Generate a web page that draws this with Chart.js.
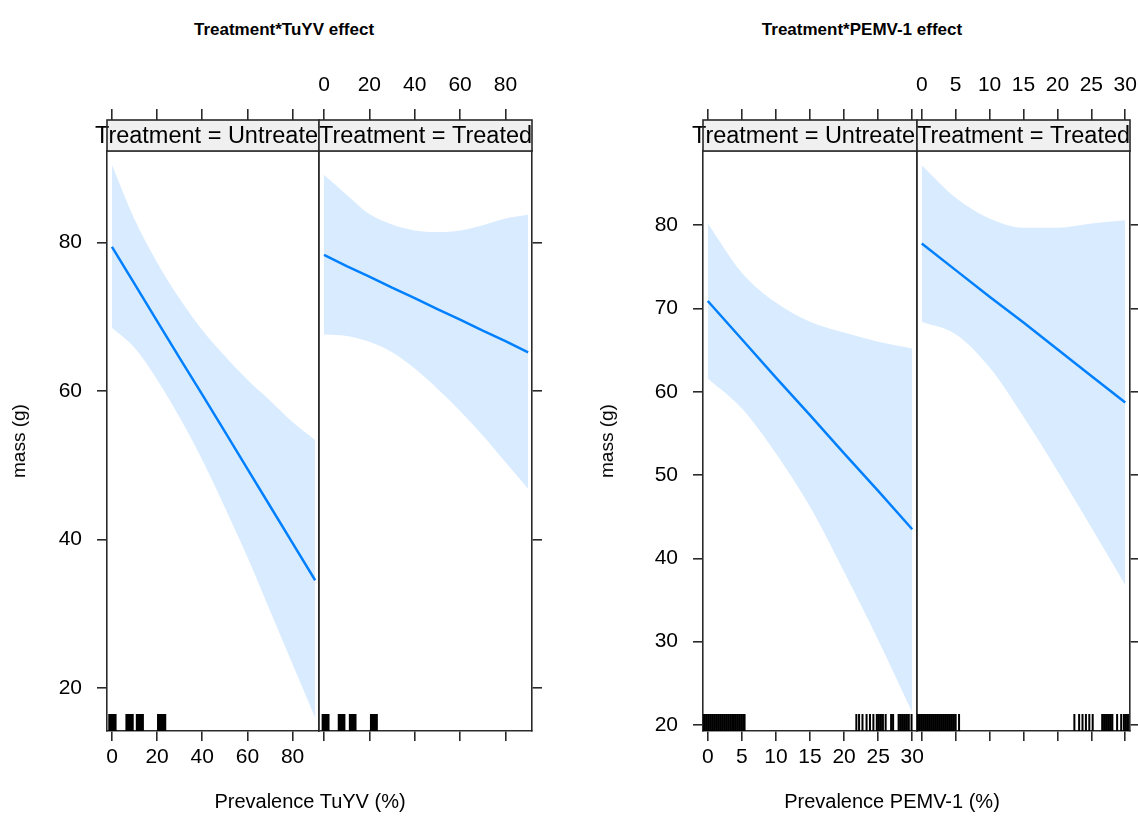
<!DOCTYPE html>
<html>
<head>
<meta charset="utf-8">
<script src="https://cdn.jsdelivr.net/npm/chart.js@4.4.1/dist/chart.umd.min.js"></script>
<style>
html, body { margin: 0; padding: 0; background: #fff; overflow: hidden; width: 1138px; height: 823px; }
#page { position: relative; width: 1138px; height: 823px; font-family: 'Liberation Sans', Arial, sans-serif; }
canvas { position: absolute; z-index: 1; }
.lbl { position: absolute; white-space: nowrap; color: #000; transform: translate(-50%, -50%); z-index: 2; }
.title { font-weight: bold; font-size: 17px; }
.axis { font-size: 20px; }
.rot { font-size: 19px; transform: translate(-50%, -50%) rotate(-90deg); }
</style>
</head>
<body>
<div id="page">
  <div class="lbl title" style="left:284px; top:30px;">Treatment*TuYV effect</div>
  <div class="lbl title" style="left:862px; top:30px;">Treatment*PEMV-1 effect</div>
  <div class="lbl axis" style="left:310px; top:801px;">Prevalence TuYV (%)</div>
  <div class="lbl axis" style="left:892px; top:801px;">Prevalence PEMV-1 (%)</div>
  <div class="lbl rot" style="left:19px; top:441px;">mass (g)</div>
  <div class="lbl rot" style="left:607px; top:441px;">mass (g)</div>
</div>
<script>
// ---- data ----
var tuyvX = [0, 10, 20, 30, 40, 50, 60, 70, 80, 90];
var tuyvUntreatedFit   = [79.4, 74.4, 69.4, 64.4, 59.5, 54.5, 49.5, 44.5, 39.5, 34.5];
var tuyvUntreatedUpper = [90.4, 83.1, 77.3, 72.4, 68.2, 64.7, 61.5, 58.7, 55.8, 53.4];
var tuyvUntreatedLower = [68.5, 65.8, 61.5, 56.4, 50.7, 44.3, 37.6, 30.4, 23.2, 16.0];
var tuyvTreatedFit     = [78.3, 76.8, 75.4, 73.9, 72.5, 71.0, 69.6, 68.1, 66.7, 65.2];
var tuyvTreatedUpper   = [89.1, 86.4, 83.8, 82.4, 81.6, 81.4, 81.6, 82.3, 83.2, 83.7];
var tuyvTreatedLower   = [67.6, 67.4, 66.6, 65.2, 63.0, 60.3, 57.3, 54.0, 50.4, 46.8];

var pemvX = [0, 5, 10, 15, 20, 25, 30];
var pemvUntreatedFit   = [70.9, 66.3, 61.7, 57.2, 52.6, 48.1, 43.5];
var pemvUntreatedUpper = [80.2, 74.3, 70.7, 68.4, 67.1, 66.0, 65.2];
var pemvUntreatedLower = [61.6, 58.0, 52.6, 46.2, 38.4, 30.2, 21.5];
var pemvTreatedFit     = [77.8, 74.6, 71.4, 68.3, 65.1, 61.9, 58.7];
var pemvTreatedUpper   = [87.2, 83.3, 80.8, 79.7, 79.7, 80.2, 80.6];
var pemvTreatedLower   = [68.4, 66.9, 62.9, 57.0, 50.5, 43.7, 36.8];

// rug (jittered observations along the x axis)
var tuyvUntreatedRug = [-1.2, -0.5, 0.2, 0.9, 1.6, 6.4, 7.1, 7.8, 8.5, 9.2, 11.0, 11.7, 12.4, 13.1, 13.7, 20.4, 21.1, 21.8, 22.5, 23.2, 23.6];
var tuyvTreatedRug   = [-0.6, 0.1, 0.8, 1.5, 2.0, 6.5, 7.2, 7.9, 8.6, 9.0, 11.4, 12.1, 12.8, 13.5, 13.9, 20.7, 21.4, 22.1, 22.8, 23.3];
var pemvUntreatedRug = [-0.8, -0.5, -0.2, 0.1, 0.4, 0.7, 1.0, 1.3, 1.6, 1.9, 2.2, 2.5, 2.8, 3.1, 3.4, 3.7, 4.0, 4.3, 4.6, 4.9, 5.2, 5.4,
                        21.8, 22.2, 22.7, 23.3, 23.8, 24.3, 24.8, 25.1, 25.4, 25.7, 26.1, 26.9, 27.2, 28.0, 28.3, 28.6, 28.9, 29.2, 29.5, 29.9];
var pemvTreatedRug   = [-1.0, -0.7, -0.4, -0.1, 0.2, 0.5, 0.8, 1.1, 1.4, 1.7, 2.0, 2.3, 2.6, 2.9, 3.2, 3.5, 3.8, 4.1, 4.4, 4.7, 5.0, 5.5,
                        22.5, 23.2, 23.7, 24.2, 24.7, 25.2, 26.6, 26.9, 27.2, 27.5, 27.8, 28.1, 28.8, 29.4, 29.8, 30.1, 30.4];

var tuyvXTicks = [0, 20, 40, 60, 80];
var pemvXTicks = [0, 5, 10, 15, 20, 25, 30];
var tuyvYTicks = [20, 40, 60, 80];
var pemvYTicks = [20, 30, 40, 50, 60, 70, 80];
var stripLabels = ['Treatment = Untreated', 'Treatment = Treated'];

// ---- look ----
var LINE = '#0080ff';
var BAND = 'rgba(0, 128, 255, 0.15)';
var FRAME = '#2a2a2a';
var STRIP_H = 31;
var PAD_T = 100, PAD_B = 60;

Chart.defaults.font.family = "'Liberation Sans', Arial, sans-serif";
Chart.defaults.color = '#000';

function pts(xs, ys) {
	return xs.map(function (x, i) { return { x: x, y: ys[i] }; });
}

// strip above the panel and the rug along its bottom
var panelExtras = {
	id: 'panelExtras',
	afterDatasetsDraw: function (chart, args, o) {
		var a = chart.chartArea, ctx = chart.ctx, xs = chart.scales.x;
		ctx.save();
		ctx.beginPath();
		ctx.rect(a.left, a.top, a.right - a.left, a.bottom - a.top);
		ctx.clip();
		ctx.strokeStyle = '#000';
		ctx.lineWidth = o.rugWidth;
		ctx.beginPath();
		o.rug.forEach(function (v) {
			var px = xs.getPixelForValue(v);
			ctx.moveTo(px, a.bottom);
			ctx.lineTo(px, a.bottom - 17);
		});
		ctx.stroke();
		ctx.restore();
	},
	afterDraw: function (chart, args, o) {
		var a = chart.chartArea, ctx = chart.ctx;
		var top = a.top - STRIP_H;
		ctx.save();
		ctx.fillStyle = '#f0f0f0';
		ctx.fillRect(a.left, top, a.right - a.left, STRIP_H);
		ctx.save();
		ctx.beginPath();
		if (o.clip === 'right') ctx.rect(0, top, a.right, STRIP_H);
		else ctx.rect(0, top, chart.width, STRIP_H);
		ctx.clip();
		ctx.fillStyle = '#000';
		ctx.font = "23.5px 'Liberation Sans', Arial, sans-serif";
		ctx.textAlign = 'center';
		ctx.textBaseline = 'middle';
		ctx.fillText(o.strip, (a.left + a.right) / 2, top + STRIP_H / 2 + 1);
		ctx.restore();
		ctx.strokeStyle = FRAME;
		ctx.lineWidth = 1.6;
		ctx.strokeRect(a.left, top, a.right - a.left, STRIP_H);
		ctx.restore();
	}
};

function axis(pos, min, max, ticks, size, tickLen, showTicks, labels, padding) {
	var horiz = (pos === 'top' || pos === 'bottom');
	return {
		type: 'linear',
		position: pos,
		min: min,
		max: max,
		afterBuildTicks: function (s) { s.ticks = ticks.map(function (v) { return { value: v }; }); },
		afterFit: function (s) {
			if (horiz) s.height = size; else s.width = size;
			// keep the panel box exactly where it is put
			s.paddingLeft = 0; s.paddingRight = 0; s.paddingTop = 0; s.paddingBottom = 0;
		},
		grid: { drawOnChartArea: false, drawTicks: showTicks, tickLength: showTicks ? tickLen : 0, color: FRAME, lineWidth: 1.6 },
		border: { display: true, color: FRAME, width: 1.6 },
		ticks: {
			autoSkip: false, maxRotation: 0, minRotation: 0, padding: padding,
			color: '#000', font: { size: 21 },
			callback: function (v) { return labels ? String(v) : ''; }
		}
	};
}

function makePanel(p) {
	var canvas = document.createElement('canvas');
	canvas.width = p.right - p.left + p.padL + p.padR;
	canvas.height = p.bottom - p.top + PAD_T + PAD_B;
	canvas.style.left = (p.left - p.padL) + 'px';
	canvas.style.top = (p.top - PAD_T) + 'px';
	document.getElementById('page').appendChild(canvas);

	new Chart(canvas, {
		type: 'line',
		data: {
			datasets: [
				{ data: pts(p.xs, p.upper), borderWidth: 0, borderColor: 'rgba(0,0,0,0)', pointRadius: 0, fill: '+1', backgroundColor: BAND, cubicInterpolationMode: 'monotone' },
				{ data: pts(p.xs, p.lower), borderWidth: 0, borderColor: 'rgba(0,0,0,0)', pointRadius: 0, fill: false, cubicInterpolationMode: 'monotone' },
				{ data: pts(p.xs, p.fit), borderColor: LINE, borderWidth: 2.5, pointRadius: 0, fill: false }
			]
		},
		options: {
			responsive: false,
			animation: false,
			events: [],
			layout: { padding: 0, autoPadding: false },
			scales: {
				x: axis('bottom', p.xMin, p.xMax, p.xTicks, PAD_B, 10, true, p.first, 4),
				x2: axis('top', p.xMin, p.xMax, p.xTicks, PAD_T, STRIP_H + 11, true, !p.first, 11),
				y: axis('left', p.yMin, p.yMax, p.yTicks, p.padL, 10, p.first, p.first, 15),
				y2: axis('right', p.yMin, p.yMax, p.yTicks, p.padR, 10, !p.first, false, 4)
			},
			plugins: {
				legend: { display: false },
				tooltip: { enabled: false },
				panelExtras: { strip: p.strip, clip: p.first ? 'right' : 'none', rug: p.rug, rugWidth: p.rugWidth }
			}
		},
		plugins: [panelExtras]
	});
}

var tuyvBase = { xs: tuyvX, xMin: -2.2, xMax: 91.7, xTicks: tuyvXTicks, yMin: 14.2, yMax: 92.3, yTicks: tuyvYTicks, top: 151, bottom: 731, rugWidth: 2 };
var pemvBase = { xs: pemvX, xMin: -0.7, xMax: 30.7, xTicks: pemvXTicks, yMin: 19.28, yMax: 88.9, yTicks: pemvYTicks, top: 151, bottom: 731, rugWidth: 2 };

function panel(base, extra) {
	var p = {};
	Object.keys(base).forEach(function (k) { p[k] = base[k]; });
	Object.keys(extra).forEach(function (k) { p[k] = extra[k]; });
	return p;
}

makePanel(panel(tuyvBase, { first: true, left: 107, right: 319, padL: 100, padR: 6, strip: stripLabels[0],
	fit: tuyvUntreatedFit, upper: tuyvUntreatedUpper, lower: tuyvUntreatedLower, rug: tuyvUntreatedRug }));
makePanel(panel(tuyvBase, { first: false, left: 319, right: 532, padL: 6, padR: 14, strip: stripLabels[1],
	fit: tuyvTreatedFit, upper: tuyvTreatedUpper, lower: tuyvTreatedLower, rug: tuyvTreatedRug }));
makePanel(panel(pemvBase, { first: true, left: 703, right: 917, padL: 100, padR: 6, strip: stripLabels[0],
	fit: pemvUntreatedFit, upper: pemvUntreatedUpper, lower: pemvUntreatedLower, rug: pemvUntreatedRug }));
makePanel(panel(pemvBase, { first: false, left: 917, right: 1130, padL: 6, padR: 14, strip: stripLabels[1],
	fit: pemvTreatedFit, upper: pemvTreatedUpper, lower: pemvTreatedLower, rug: pemvTreatedRug }));
</script>
</body>
</html>
